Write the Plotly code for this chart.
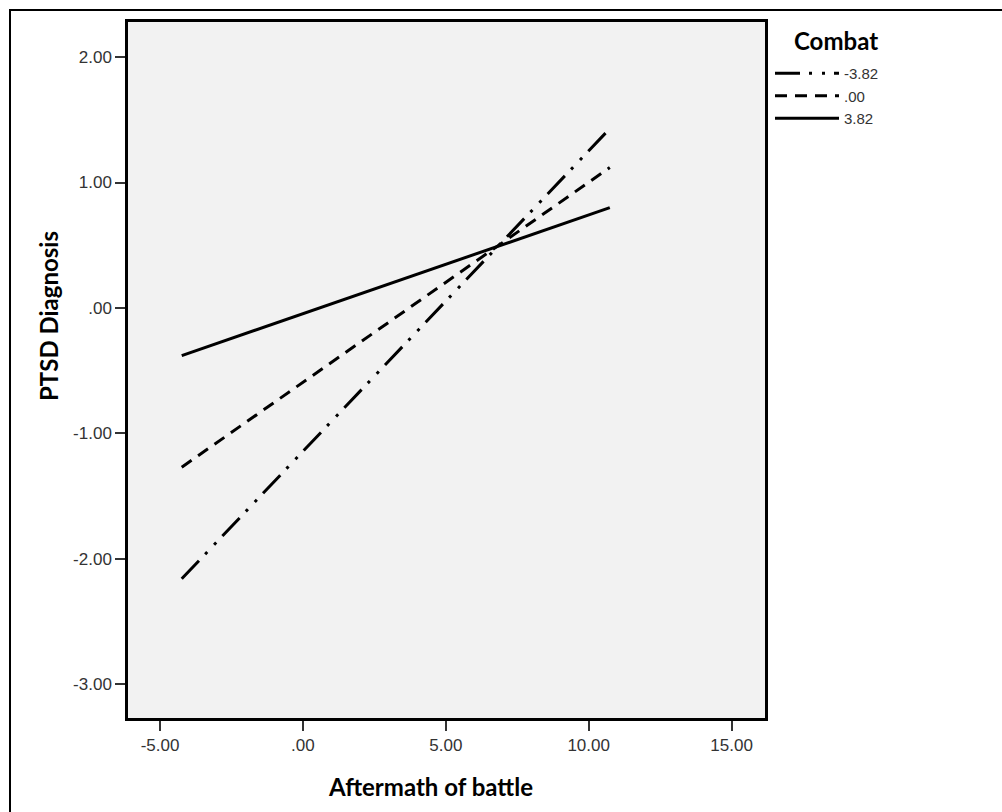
import plotly.graph_objects as go

# ---- data ----
aftermath_x = [-4.24, 10.74]
combat_labels = ["-3.82", ".00", "3.82"]
ptsd_start = [-2.16, -1.27, -0.38]
ptsd_end = [1.43, 1.12, 0.80]

x_tick_vals = [-5, 0, 5, 10, 15]
x_tick_text = ["-5.00", ".00", "5.00", "10.00", "15.00"]
y_tick_vals = [2, 1, 0, -1, -2, -3]
y_tick_text = ["2.00", "1.00", ".00", "-1.00", "-2.00", "-3.00"]

dashes = ["25px,9px,3px,10px,3px,9px", "12px,8px", "solid"]

W, H = 1002, 812
L, R, T, B = 128, 765, 22, 718

fig = go.Figure()
for lab, y0, y1, d in zip(combat_labels, ptsd_start, ptsd_end, dashes):
    fig.add_trace(go.Scatter(
        x=aftermath_x, y=[y0, y1], mode="lines", name=lab,
        line=dict(color="black", width=3, dash=d)))

def px(xp):
    return (xp - L) / (R - L)

def py(yp):
    return (B - yp) / (B - T)

tickfont = dict(family="Liberation Sans, Arial", size=17, color="#333333")
titlefont = dict(family="Lato, Open Sans", size=24, color="black")

fig.update_layout(
    width=W, height=H,
    margin=dict(l=L, r=W - R, t=T, b=H - B, autoexpand=False),
    paper_bgcolor="white",
    plot_bgcolor="#F2F2F2",
    showlegend=True,
    legend=dict(
        x=px(770), y=py(57), xanchor="left", yanchor="top",
        font=dict(family="Liberation Sans, Arial", size=15, color="#333333"),
        itemwidth=64, tracegroupgap=0, bgcolor="rgba(0,0,0,0)",
    ),
    xaxis=dict(
        range=[-6.12, 16.17], tickvals=x_tick_vals, ticktext=x_tick_text,
        showgrid=False, zeroline=False, showline=True, linecolor="black", linewidth=2.5,
        mirror=True, ticks="outside", ticklen=10, tickwidth=2, tickcolor="#333333",
        tickfont=tickfont,
    ),
    yaxis=dict(
        range=[-3.27, 2.28], tickvals=y_tick_vals, ticktext=y_tick_text,
        showgrid=False, zeroline=False, showline=True, linecolor="black", linewidth=2.5,
        mirror=True, ticks="outside", ticklen=10, tickwidth=2, tickcolor="#333333",
        tickfont=tickfont,
    ),
    annotations=[
        dict(text="<b>Combat</b>", xref="paper", yref="paper",
             x=px(836), y=py(41), xanchor="center", yanchor="middle",
             showarrow=False, font=titlefont),
        dict(text="<b>Aftermath of battle</b>", xref="paper", yref="paper",
             x=px(430), y=py(787), xanchor="center", yanchor="middle",
             showarrow=False, font=titlefont),
        dict(text="<b>PTSD Diagnosis</b>", xref="paper", yref="paper",
             x=px(48), y=py(316), xanchor="center", yanchor="middle",
             showarrow=False, textangle=-90, font=titlefont),
    ],
    shapes=[
        dict(type="rect", xref="paper", yref="paper",
             x0=px(10), y0=py(10), x1=px(1020), y1=py(830),
             line=dict(color="black", width=2), fillcolor="rgba(0,0,0,0)", layer="above"),
    ],
)

fig.write_html("out.html", config={"displayModeBar": False},
               post_script="document.body.style.margin='0px';")
